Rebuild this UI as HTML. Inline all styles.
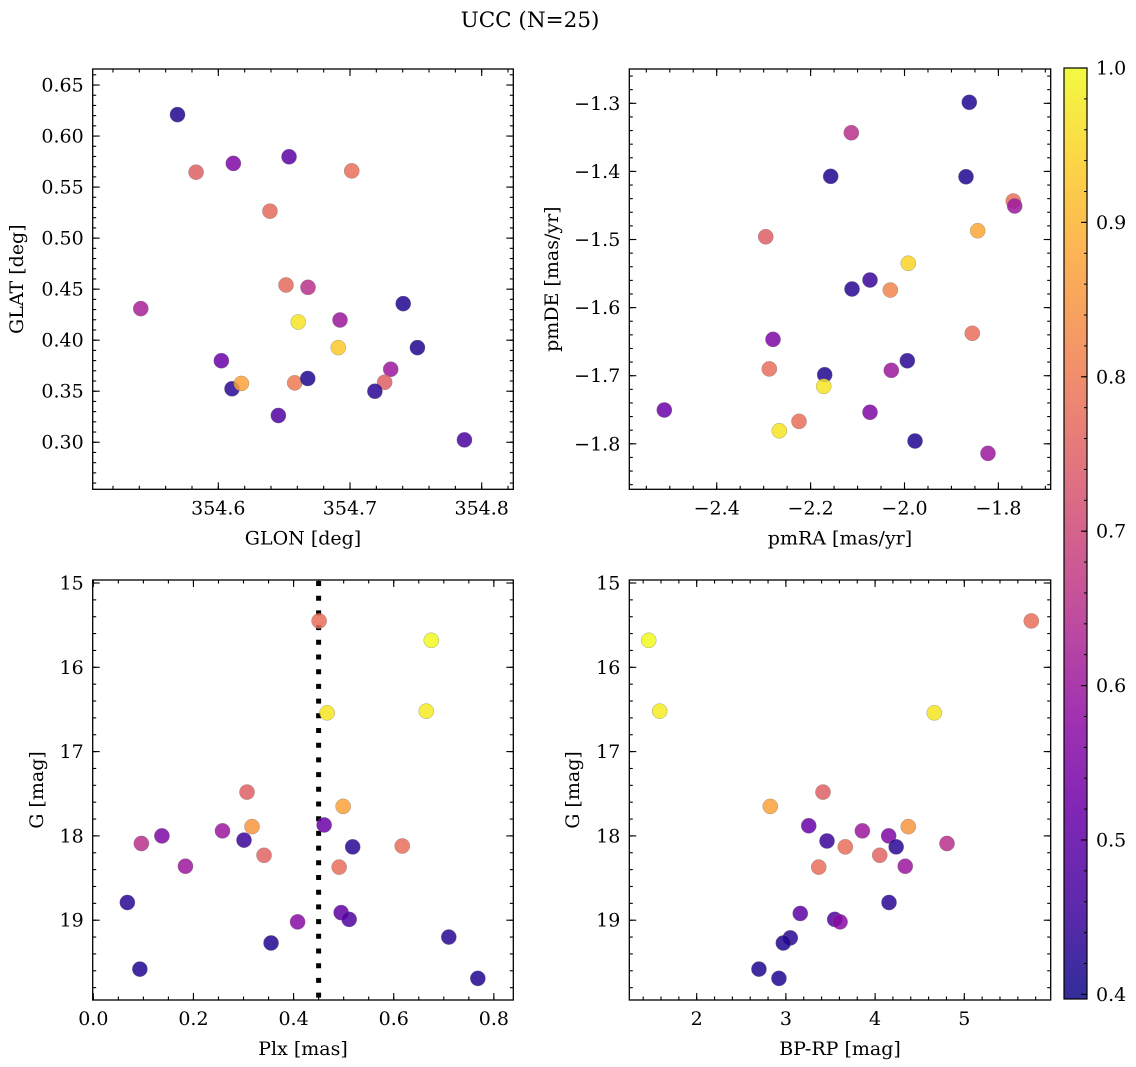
<!DOCTYPE html>
<html><head><meta charset="utf-8"><style>
html,body{margin:0;padding:0;background:#fff;}
svg{display:block;font-family:"DejaVu Serif","Liberation Serif",serif;}
</style></head><body>
<svg id="fig" width="1136" height="1067" viewBox="0 0 1136 1067" xmlns="http://www.w3.org/2000/svg">
<rect width="1136" height="1067" fill="#fff"/>
<text x="530" y="27" font-size="21.5" text-anchor="middle">UCC (N=25)</text>
</svg>
<script>
// ---- data: panel 1 (GLON vs GLAT)
const glon = [354.5690,354.5831,354.6114,354.6537,354.7013,354.6392,354.5411,354.6514,354.6681,354.6607,354.6924,354.7404,354.6911,354.7512,354.6023,354.6104,354.6175,354.6580,354.6679,354.7309,354.7263,354.7189,354.6456,354.7869];
const glat = [0.6210,0.5646,0.5732,0.5797,0.5659,0.5264,0.4309,0.4541,0.4518,0.4178,0.4198,0.4358,0.3927,0.3927,0.3799,0.3524,0.3576,0.3582,0.3625,0.3715,0.3588,0.3500,0.3262,0.3023];
const prob1 = [0.42,0.75,0.55,0.5,0.78,0.77,0.62,0.77,0.65,0.97,0.6,0.42,0.93,0.42,0.52,0.43,0.87,0.8,0.42,0.6,0.75,0.43,0.48,0.47];
// ---- data: panel 2 (pmRA vs pmDE)
const pmra = [-1.862,-2.1133,-2.1572,-1.869,-1.7683,-1.7653,-2.2956,-1.8441,-1.9919,-2.0735,-2.1118,-2.0302,-2.2801,-1.8556,-1.994,-2.17,-2.288,-2.0281,-2.1721,-2.5116,-2.0735,-2.2247,-2.2667,-1.9776,-1.8222];
const pmde = [-1.2985,-1.3432,-1.4072,-1.4078,-1.4435,-1.4508,-1.4959,-1.4871,-1.5349,-1.5595,-1.5727,-1.5742,-1.6466,-1.6377,-1.678,-1.6985,-1.690,-1.6921,-1.7156,-1.7504,-1.7537,-1.767,-1.7808,-1.7959,-1.814];
const prob2 = [0.42,0.65,0.42,0.42,0.78,0.6,0.75,0.88,0.95,0.45,0.43,0.82,0.55,0.78,0.43,0.42,0.78,0.6,0.97,0.52,0.55,0.78,0.97,0.42,0.6];
// ---- data: panel 3 (Plx vs G)
const plx = [0.451,0.675,0.467,0.665,0.307,0.499,0.317,0.461,0.258,0.137,0.096,0.301,0.518,0.617,0.341,0.184,0.491,0.068,0.495,0.511,0.408,0.710,0.355,0.093,0.768];
const gmag3 = [15.45,15.68,16.54,16.52,17.48,17.65,17.89,17.87,17.94,18.00,18.09,18.05,18.13,18.12,18.23,18.36,18.37,18.79,18.91,18.99,19.02,19.20,19.27,19.58,19.69];
const prob3 = [0.78,1.0,0.97,0.98,0.75,0.87,0.85,0.52,0.6,0.55,0.65,0.45,0.43,0.78,0.76,0.6,0.78,0.43,0.5,0.48,0.57,0.43,0.42,0.42,0.42];
const plxLine = 0.45;
// ---- data: panel 4 (BP-RP vs G)
const bprp = [1.462,5.751,1.585,4.664,3.416,2.825,3.256,4.372,3.857,4.152,4.806,3.461,4.236,3.666,4.052,4.338,3.368,4.156,3.161,3.547,3.607,3.049,2.971,2.698,2.922];
const gmag4 = [15.68,15.45,16.52,16.54,17.48,17.65,17.88,17.89,17.94,18.00,18.09,18.06,18.13,18.13,18.23,18.36,18.37,18.79,18.92,18.99,19.02,19.21,19.27,19.58,19.69];
const prob4 = [1.0,0.78,0.98,0.97,0.75,0.87,0.52,0.85,0.6,0.55,0.65,0.45,0.43,0.78,0.76,0.6,0.78,0.43,0.5,0.48,0.57,0.43,0.42,0.42,0.42];
// ---- tick labels
const ticks1x = [354.6,354.7,354.8];
const ticks1y = [0.30,0.35,0.40,0.45,0.50,0.55,0.60,0.65];
const ticks2x = [-2.4,-2.2,-2.0,-1.8];
const ticks2y = [-1.3,-1.4,-1.5,-1.6,-1.7,-1.8];
const ticks3x = [0.0,0.2,0.4,0.6,0.8];
const ticksG = [15,16,17,18,19];
const ticks4x = [2,3,4,5];
const cbarTicks = [0.4,0.5,0.6,0.7,0.8,0.9,1.0];

const NS='http://www.w3.org/2000/svg';
const svg=document.getElementById('fig');
const FS=19;
function mk(tag,attrs,parent){const e=document.createElementNS(NS,tag);for(const k in attrs)e.setAttribute(k,attrs[k]);(parent||svg).appendChild(e);return e;}
const stops=[[13,8,135],[65,4,157],[106,0,168],[143,13,164],[177,42,144],[204,71,120],[225,100,98],[242,132,75],[252,166,54],[252,206,37],[240,249,33]];
const VMIN=0.397,VMAX=1.0;
function plasma(v){let t=(v-VMIN)/(VMAX-VMIN);t=Math.max(0,Math.min(1,t))*10;const i=Math.min(9,Math.floor(t)),f=t-i;const a=stops[i],b=stops[i+1];return 'rgb('+[0,1,2].map(k=>Math.round(a[k]+(b[k]-a[k])*f)).join(',')+')';}
function fmt(v,d){const s=Math.abs(v).toFixed(d);return (v<0?'\u2212':'')+s;}

function panel(o){
  const g=mk('g',{});
  
  
  const sx=v=>o.x0+(v-o.xd[0])/(o.xd[1]-o.xd[0])*(o.x1-o.x0);
  const sy=v=>o.y1-(v-o.yd[0])/(o.yd[1]-o.yd[0])*(o.y1-o.y0);
  if(o.vline!==undefined){
    const l=mk('line',{x1:sx(o.vline),x2:sx(o.vline),y1:o.y0+1,y2:o.y1,stroke:'#000','stroke-width':5,'stroke-dasharray':'5 9.7'},g);
    
    
  }
  for(let i=0;i<o.xs.length;i++){
    const c=mk('circle',{cx:sx(o.xs[i]),cy:sy(o.ys[i]),r:7.6,fill:plasma(o.cs[i]),'fill-opacity':0.85,stroke:'#777','stroke-width':0.5,'stroke-opacity':0.6},g);
    
    
  }
  const tk=mk('g',{stroke:'#000','stroke-width':1.1},g);
  const xmin=Math.min(...o.xd),xmax=Math.max(...o.xd),ymin=Math.min(...o.yd),ymax=Math.max(...o.yd);
  for(let v=Math.ceil(xmin/o.xminor-1e-9)*o.xminor;v<=xmax;v+=o.xminor){const X=sx(v);mk('line',{x1:X,x2:X,y1:o.y1,y2:o.y1-3.5},tk);mk('line',{x1:X,x2:X,y1:o.y0,y2:o.y0+3.5},tk);}
  for(let v=Math.ceil(ymin/o.yminor-1e-9)*o.yminor;v<=ymax;v+=o.yminor){const Y=sy(v);mk('line',{x1:o.x0,x2:o.x0+3.5,y1:Y,y2:Y},tk);mk('line',{x1:o.x1,x2:o.x1-3.5,y1:Y,y2:Y},tk);}
  o.xt.forEach(v=>{const X=sx(v);mk('line',{x1:X,x2:X,y1:o.y1,y2:o.y1-7},tk);mk('line',{x1:X,x2:X,y1:o.y0,y2:o.y0+7},tk);
    const t=mk('text',{x:X,y:o.y1+25,'font-size':FS,'text-anchor':'middle',stroke:'none'},g);t.textContent=fmt(v,o.xdec);
    });
  o.yt.forEach(v=>{const Y=sy(v);mk('line',{x1:o.x0,x2:o.x0+7,y1:Y,y2:Y},tk);mk('line',{x1:o.x1,x2:o.x1-7,y1:Y,y2:Y},tk);
    const t=mk('text',{x:o.x0-9,y:Y+6.5,'font-size':FS,'text-anchor':'end'},g);t.textContent=fmt(v,o.ydec);
    });
  mk('rect',{x:o.x0,y:o.y0,width:o.x1-o.x0,height:o.y1-o.y0,fill:'none',stroke:'#000','stroke-width':1.3},g);
  const xl=mk('text',{x:(o.x0+o.x1)/2,y:o.y1+55,'font-size':FS,'text-anchor':'middle'},g);xl.textContent=o.xlabel;
  
  const yc=(o.y0+o.y1)/2;
  const yl=mk('text',{x:o.ylx,y:yc,'font-size':FS,'text-anchor':'middle',transform:'rotate(-90 '+o.ylx+' '+yc+')'},g);yl.textContent=o.ylabel;
  
}
panel({name:'glon-glat-panel',x0:92.7,x1:513.3,y0:69,y1:489.3,xd:[354.5046,354.824],yd:[0.2539,0.6657],xs:glon,ys:glat,cs:prob1,xt:ticks1x,yt:ticks1y,xdec:1,ydec:2,xminor:0.02,yminor:0.01,xlabel:'GLON [deg]',ylabel:'GLAT [deg]',ylx:23});
panel({name:'pm-panel',x0:629.3,x1:1050.7,y0:69,y1:489.3,xd:[-2.5862,-1.6886],yd:[-1.8668,-1.2496],xs:pmra,ys:pmde,cs:prob2,xt:ticks2x,yt:ticks2y,xdec:1,ydec:1,xminor:0.05,yminor:0.02,xlabel:'pmRA [mas/yr]',ylabel:'pmDE [mas/yr]',ylx:558});
panel({name:'plx-g-panel',x0:92.7,x1:513.3,y0:580,y1:1000,xd:[-0.0012,0.8388],yd:[19.9466,14.9644],xs:plx,ys:gmag3,cs:prob3,xt:ticks3x,yt:ticksG,xdec:1,ydec:0,xminor:0.05,yminor:0.2,xlabel:'Plx [mas]',ylabel:'G [mag]',ylx:43,vline:plxLine});
panel({name:'cmd-panel',x0:629.3,x1:1050.7,y0:580,y1:1000,xd:[1.2444,5.9686],yd:[19.9466,14.9644],xs:bprp,ys:gmag4,cs:prob4,xt:ticks4x,yt:ticksG,xdec:0,ydec:0,xminor:0.2,yminor:0.2,xlabel:'BP-RP [mag]',ylabel:'G [mag]',ylx:579});

const cb=mk('g',{});


const cx0=1064,cx1=1087,cy0=68,cy1=999;
const defs=mk('defs',{},cb);
const grad=mk('linearGradient',{id:'pl',x1:0,y1:1,x2:0,y2:0},defs);
for(let i=0;i<=20;i++){const v=VMIN+(VMAX-VMIN)*i/20;mk('stop',{offset:(i/20),'stop-color':plasma(v),'stop-opacity':0.85},grad);}
mk('rect',{x:cx0,y:cy0,width:cx1-cx0,height:cy1-cy0,fill:'url(#pl)'},cb);
const cyv=v=>cy1-(v-VMIN)/(VMAX-VMIN)*(cy1-cy0);
for(let v=0.42;v<1.0;v+=0.02){const Y=cyv(v);mk('line',{x1:cx1,x2:cx1-3,y1:Y,y2:Y,stroke:'#000','stroke-width':1},cb);}
cbarTicks.forEach(v=>{const Y=cyv(v);mk('line',{x1:cx1,x2:cx1-6,y1:Y,y2:Y,stroke:'#000','stroke-width':1.1},cb);
  const t=mk('text',{x:cx1+9,y:Y+6.5,'font-size':FS},cb);t.textContent=v.toFixed(1);
  });
mk('rect',{x:cx0,y:cy0,width:cx1-cx0,height:cy1-cy0,fill:'none',stroke:'#000','stroke-width':1.2},cb);
</script>
</body></html>
